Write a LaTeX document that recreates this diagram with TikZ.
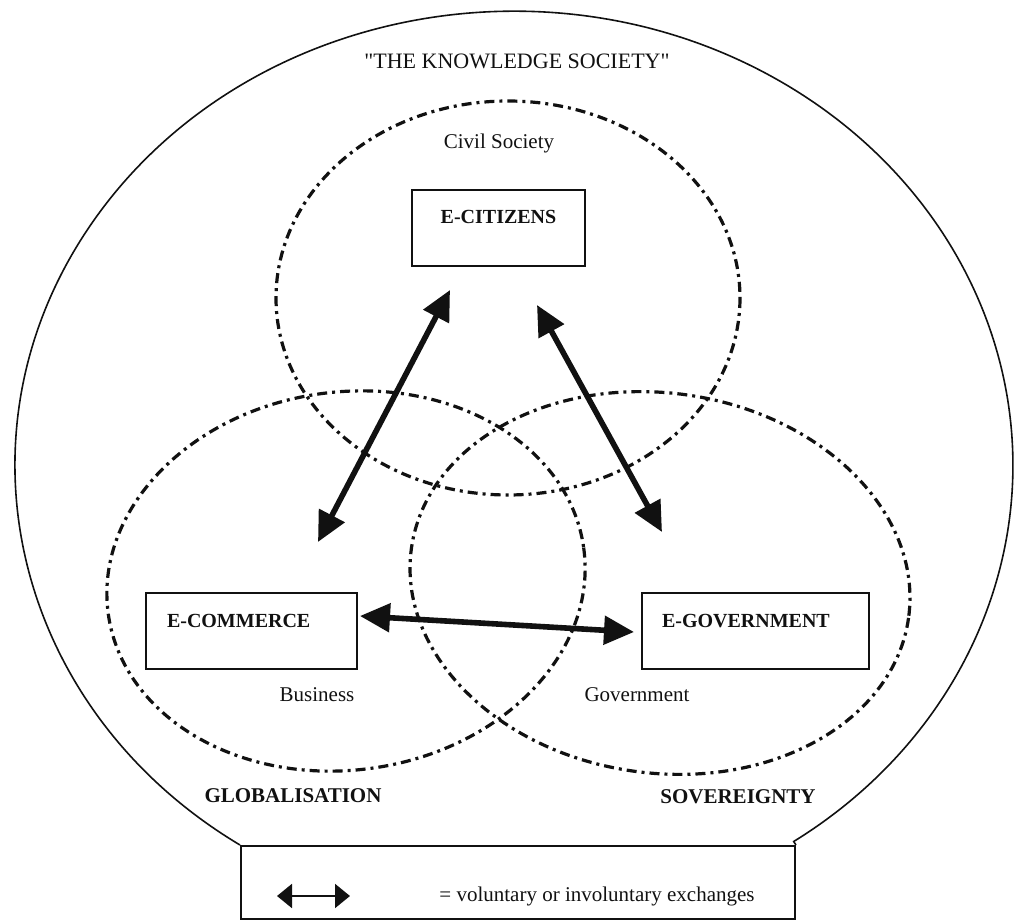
\documentclass[tikz,border=0pt]{standalone}
\usepackage{fontspec}
\setmainfont{Liberation Serif}
\usetikzlibrary{arrows.meta, positioning}
\definecolor{ink}{HTML}{111111}
\tikzset{
  sphere/.style   = {draw=ink, line width=1.6pt, dash pattern=on 5pt off 2.5pt on 1.5pt off 2.5pt},
  agent/.style    = {draw=ink, line width=1pt, rectangle, font=\bfseries, text=ink,
                     text height=14pt, text depth=18pt, inner ysep=3pt},
  exch/.style     = {{Triangle[length=15pt,width=14pt]}-{Triangle[length=15pt,width=14pt]},
                     draw=ink, line width=2.8pt},
  legexch/.style  = {{Triangle[length=7.5pt,width=12pt]}-{Triangle[length=7.5pt,width=12pt]},
                     draw=ink, line width=1pt},
  tag/.style      = {font=\fontsize{10.5}{12}\selectfont, text=ink},
  realm/.style    = {font=\fontsize{10.5}{12}\selectfont\bfseries, text=ink},
}

\begin{document}
\begin{tikzpicture}[x=0.5pt, y=-0.5pt]
  \useasboundingbox (0,0) rectangle (1014,920);

  % legend and the society round it
  \node[draw=ink, line width=1pt, minimum width=277pt, minimum height=36.5pt, inner sep=0pt]
    (legend) at (518,882.5) {};
  \draw[ink, line width=0.8pt] (legend.north west)
    arc[start angle=123.3, end angle=415.9, x radius=499, y radius=454.2] -- (legend.north east);
  \node[font=\fontsize{11}{13}\selectfont, text=ink] (title) at (517,61)
    {\textquotedbl THE KNOWLEDGE SOCIETY\textquotedbl};

  % spheres
  \draw[sphere] (508,298) ellipse[x radius=232, y radius=197];
  \draw[sphere, rotate around={8:(346,581)}] (346,581) ellipse[x radius=240, y radius=189];
  \draw[sphere, rotate around={-8:(660,583)}] (660,583) ellipse[x radius=251, y radius=190];

  \node[tag] (civil) at (499,143) {Civil Society};
  \node[tag] (business) at (317,695) {Business};
  \node[tag] (government) at (637,695) {Government};
  \node[realm] (glob) at (293,796) {GLOBALISATION};
  \node[realm] (sov) at (738,797) {SOVEREIGNTY};

  % actors
  \node[agent, minimum width=86.5pt] (ecit) at (498.5,228) {E-CITIZENS};
  \node[agent, inner xsep=10.5pt, text width=84.5pt, align=left] (ecom) at (251.5,631) {E-COMMERCE};
  \node[agent, inner xsep=10pt, text width=93.5pt, align=left] (egov) at (755.5,631) {E-GOVERNMENT};

  % exchanges
  \coordinate (cit-w) at (450,290);
  \coordinate (com-n) at (318,542);
  \coordinate (cit-e) at (537,305);
  \coordinate (gov-n) at (662,532);
  \coordinate (com-e) at (360,616);
  \coordinate (gov-w) at (634,632);
  \draw[exch] (cit-w) -- (com-n);
  \draw[exch] (cit-e) -- (gov-n);
  \draw[exch] (com-e) -- (gov-w);

  \coordinate (leg-l) at (277,896);
  \coordinate (leg-r) at (350,896);
  \draw[legexch] (leg-l) -- (leg-r);
  \node[tag] (legtext) at (597,896) {= voluntary or involuntary exchanges};
\end{tikzpicture}
\end{document}
